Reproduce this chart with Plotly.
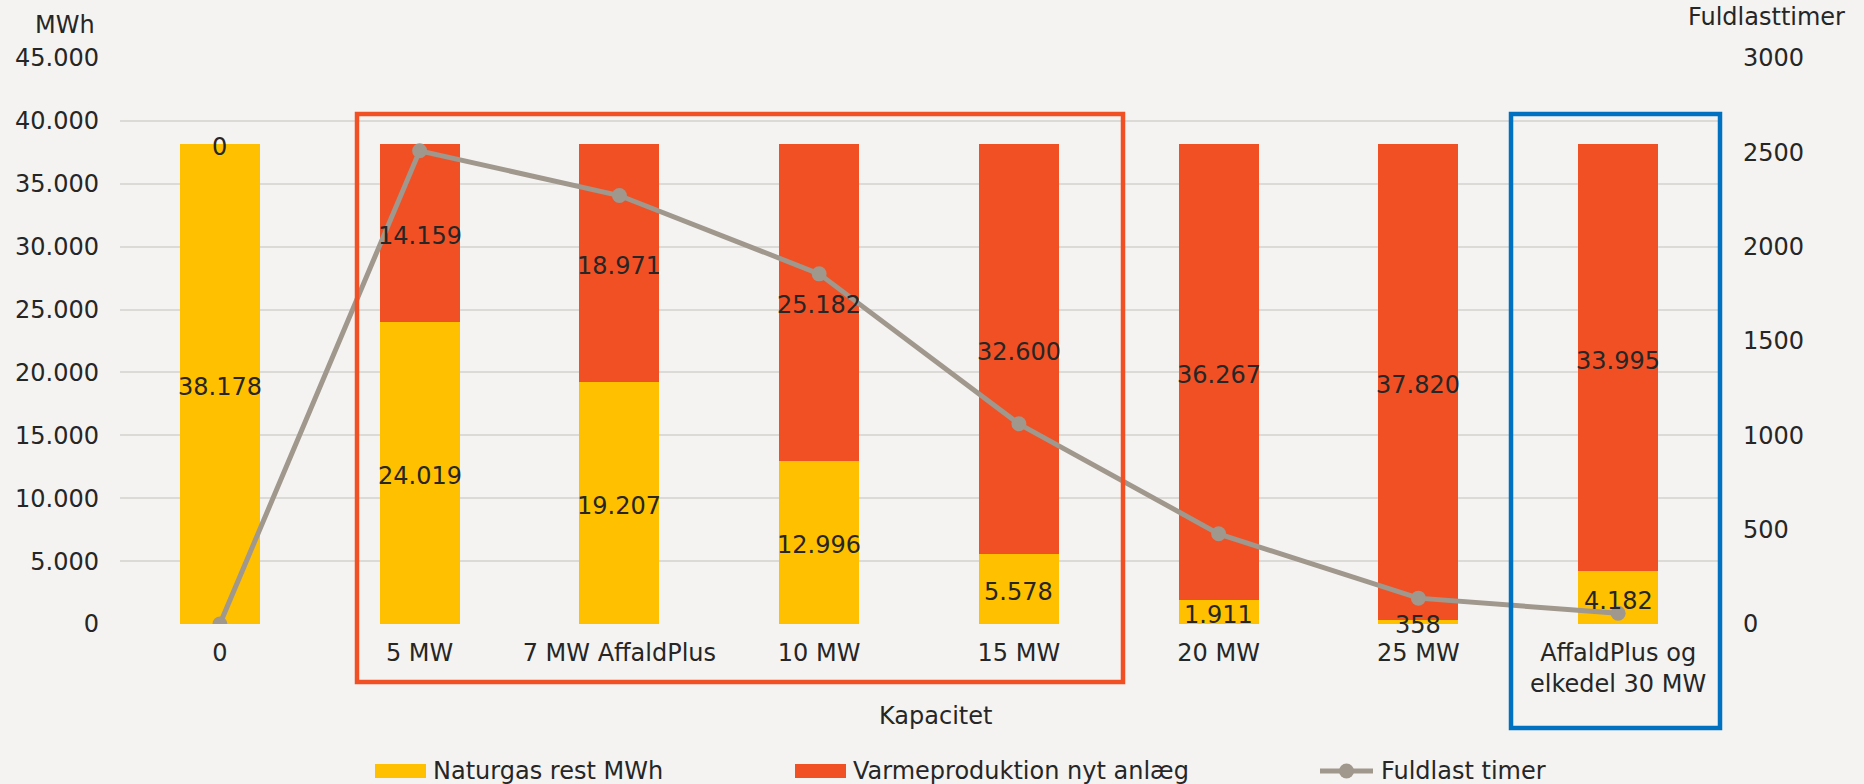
import plotly.graph_objects as go

# Chart data
kapacitet = ["0", "5 MW", "7 MW AffaldPlus", "10 MW", "15 MW", "20 MW", "25 MW",
             "AffaldPlus og<br>elkedel 30 MW"]
naturgas_rest = [38178, 24019, 19207, 12996, 5578, 1911, 358, 4182]
varme_nyt = [0, 14159, 18971, 25182, 32600, 36267, 37820, 33995]
fuldlast_timer = [0, 2508, 2271, 1856, 1061, 478, 137, 57]

y_ticks = [0, 5000, 10000, 15000, 20000, 25000, 30000, 35000, 40000, 45000]
y2_ticks = [0, 500, 1000, 1500, 2000, 2500, 3000]

# Styling
BG = "#F4F3F1"
TXT = "#262626"
YELLOW = "#FFC000"
ORANGE = "#F05024"
GREY = "#A0978D"
BLUE = "#0070C0"
FONT = "Verdana, DejaVu Sans, sans-serif"
FS = 24

W, H = 1864, 784
L, R, T, B = 120, 146, 58, 160
PW, PH = W - L - R, H - T - B


def px_x(px):
    return (px - L) / PW


def px_y(py):
    return (H - B - py) / PH


def dk(v):
    return f"{v:,}".replace(",", ".")


fig = go.Figure()

fig.add_trace(go.Bar(
    x=kapacitet, y=naturgas_rest, name="Naturgas rest MWh",
    marker=dict(color=YELLOW, line=dict(width=0)),
))
fig.add_trace(go.Bar(
    x=kapacitet, y=varme_nyt, name="Varmeproduktion nyt anlæg",
    marker=dict(color=ORANGE, line=dict(width=0)),
))
fig.add_trace(go.Scatter(
    x=kapacitet, y=fuldlast_timer, name="Fuldlast timer", yaxis="y2",
    mode="lines+markers",
    line=dict(color=GREY, width=5),
    marker=dict(color=GREY, size=15),
))

# value labels centred in each stacked segment
annotations = []
for cat, n, v in zip(kapacitet, naturgas_rest, varme_nyt):
    annotations.append(dict(text=dk(n), x=cat, y=n / 2))
    annotations.append(dict(text=dk(v), x=cat, y=n + v / 2))
for a in annotations:
    a.update(xref="x", yref="y", showarrow=False, yshift=-3,
             xanchor="center", yanchor="middle",
             font=dict(family=FONT, size=FS, color=TXT))

shapes = [
    # highlight frames around groups of scenarios
    dict(type="rect", xref="paper", yref="paper", x0=px_x(357), x1=px_x(1123),
         y0=px_y(682), y1=px_y(114), line=dict(color=ORANGE, width=4.5),
         layer="above"),
    dict(type="rect", xref="paper", yref="paper", x0=px_x(1511), x1=px_x(1720),
         y0=px_y(728), y1=px_y(114), line=dict(color=BLUE, width=4.5),
         layer="above"),
    # legend keys
    dict(type="rect", xref="paper", yref="paper", x0=px_x(375), x1=px_x(426),
         y0=px_y(778), y1=px_y(764), fillcolor=YELLOW, line=dict(width=0)),
    dict(type="rect", xref="paper", yref="paper", x0=px_x(795), x1=px_x(846),
         y0=px_y(778), y1=px_y(764), fillcolor=ORANGE, line=dict(width=0)),
    dict(type="line", xref="paper", yref="paper", x0=px_x(1320), x1=px_x(1373),
         y0=px_y(771), y1=px_y(771), line=dict(color=GREY, width=5)),
    dict(type="circle", xref="paper", yref="paper",
         x0=px_x(1339), x1=px_x(1354), y0=px_y(778.5), y1=px_y(763.5),
         fillcolor=GREY, line=dict(width=0)),
]

texts = [
    dict(text="MWh", x=px_x(97), y=px_y(25), xanchor="right", yanchor="middle"),
    dict(text="Fuldlasttimer", x=px_x(1686), y=px_y(17), xanchor="left",
         yanchor="middle"),
    dict(text="Kapacitet", x=px_x(935), y=px_y(716), xanchor="center",
         yanchor="middle"),
    dict(text="Naturgas rest MWh", x=px_x(431), y=px_y(771), xanchor="left",
         yanchor="middle"),
    dict(text="Varmeproduktion nyt anlæg", x=px_x(851), y=px_y(771),
         xanchor="left", yanchor="middle"),
    dict(text="Fuldlast timer", x=px_x(1379), y=px_y(771), xanchor="left",
         yanchor="middle"),
]
for a in texts:
    a.update(xref="paper", yref="paper", showarrow=False,
             font=dict(family=FONT, size=FS, color=TXT))
annotations += texts

fig.update_layout(
    width=W, height=H,
    margin=dict(l=L, r=R, t=T, b=B, pad=0),
    paper_bgcolor=BG, plot_bgcolor=BG,
    barmode="stack", bargap=0.6,
    showlegend=False,
    separators=",.",
    font=dict(family=FONT, size=FS, color=TXT),
    xaxis=dict(
        type="category", range=[-0.5, 7.5], showgrid=False, zeroline=False,
        showline=False, ticks="", ticklabelstandoff=12,
        tickfont=dict(family=FONT, size=FS, color=TXT),
    ),
    yaxis=dict(
        range=[0, 45000], tickvals=y_ticks, separatethousands=True,
        tickformat=",d", showgrid=True, gridcolor="#DCDAD6", gridwidth=2,
        zeroline=False, showline=False, ticks="", ticklabelstandoff=20,
        tickfont=dict(family=FONT, size=FS, color=TXT),
    ),
    yaxis2=dict(
        range=[0, 3000], tickvals=y2_ticks, overlaying="y", side="right",
        showgrid=False, zeroline=False, showline=False, ticks="",
        ticklabelstandoff=24,
        tickfont=dict(family=FONT, size=FS, color=TXT),
    ),
    shapes=shapes,
    annotations=annotations,
)

fig.write_html("out.html")
